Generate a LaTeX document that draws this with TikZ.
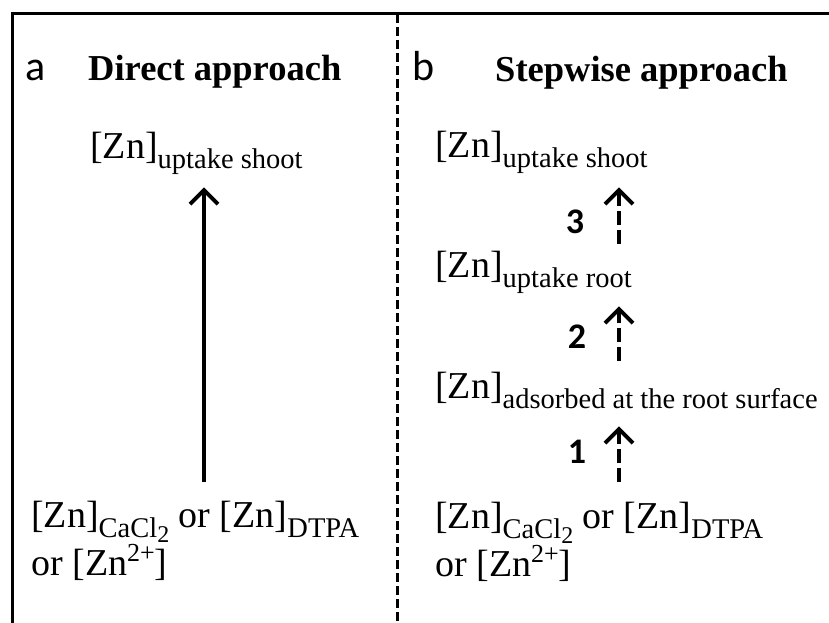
\documentclass[tikz,border=0pt]{standalone}
\usepackage{fontspec}
\setmainfont{Liberation Serif}
\newfontfamily\calfont{Carlito}
\usetikzlibrary{arrows.meta,calc}

\newcommand{\znsub}[1]{\raisebox{-10pt}[0pt][0pt]{\fontsize{28.5}{30}\selectfont #1}}
\newcommand{\znsup}[1]{\raisebox{14pt}[0pt][0pt]{\fontsize{26}{28}\selectfont #1}}
\newcommand{\cacl}{CaCl\raisebox{-5pt}{\fontsize{24}{26}\selectfont 2}}

\tikzstyle{zn} = [inner sep=0pt, anchor=base west, font=\fontsize{38}{48}\selectfont]
\tikzstyle{head} = [inner sep=0pt, anchor=base west, font=\fontsize{36.5}{40}\selectfont\bfseries]
\tikzstyle{panel} = [inner sep=0pt, anchor=base west, font=\fontsize{42}{44}\selectfont\calfont]
\tikzstyle{stepnum} = [inner sep=0pt, font=\fontsize{36}{38}\selectfont\calfont\bfseries]
\tikzstyle{uparrow} = [-{Straight Barb[length=14pt,width=28pt]}, line width=4pt]
\tikzstyle{steparrow} = [uparrow, dash pattern=on 14pt off 5pt]

\begin{document}
\begin{tikzpicture}[x=1pt,y=-1pt]
\useasboundingbox (0,0) rectangle (829,623);
% frame and panel divider
\draw[line width=3pt] (12,623) -- (12,14) -- (829,14);
\draw[line width=3pt, dash pattern=on 9pt off 4pt] (397,14) -- (397,623);

\node[panel] (labA) at (25,81) {a};
\node[head] (headA) at (88,81) {Direct approach};
\node[panel] (labB) at (412,81) {b};
\node[head] (headB) at (495,82) {Stepwise approach};

% direct approach
\node[zn] (shootA) at (90,158) {[Zn]\znsub{uptake shoot}};
\node[zn, align=left] (solA) at (31,575) {[Zn]\znsub{\cacl} or [Zn]\znsub{DTPA}\\or [Zn\znsup{2+}]};

% stepwise approach
\node[zn] (shootB) at (435,157) {[Zn]\znsub{uptake shoot}};
\node[zn] (rootB) at (435,277) {[Zn]\znsub{uptake root}};
\node[zn] (surfB) at (435,398) {[Zn]\znsub{adsorbed at the root surface}};
\node[zn, align=left] (solB) at (435,576) {[Zn]\znsub{\cacl} or [Zn]\znsub{DTPA}\\or [Zn\znsup{2+}]};

\node[stepnum] (n3) at (575,222) {3};
\node[stepnum] (n2) at (577,337) {2};
\node[stepnum] (n1) at (577,452) {1};

\coordinate (xA) at (204,0);
\coordinate (xB) at (619,0);

\draw[uparrow, shorten <=18pt, shorten >=24pt] (solA.north -| xA) -- (shootA.south -| xA);
\draw[steparrow, shorten <=19pt, shorten >=23pt] (solB.north -| xB) -- (surfB.south -| xB);
\draw[steparrow, shorten <=10pt, shorten >=24pt] (surfB.north -| xB) -- (rootB.south -| xB);
\draw[steparrow, shorten <=6pt, shorten >=25pt] (rootB.north -| xB) -- (shootB.south -| xB);
\end{tikzpicture}
\end{document}
